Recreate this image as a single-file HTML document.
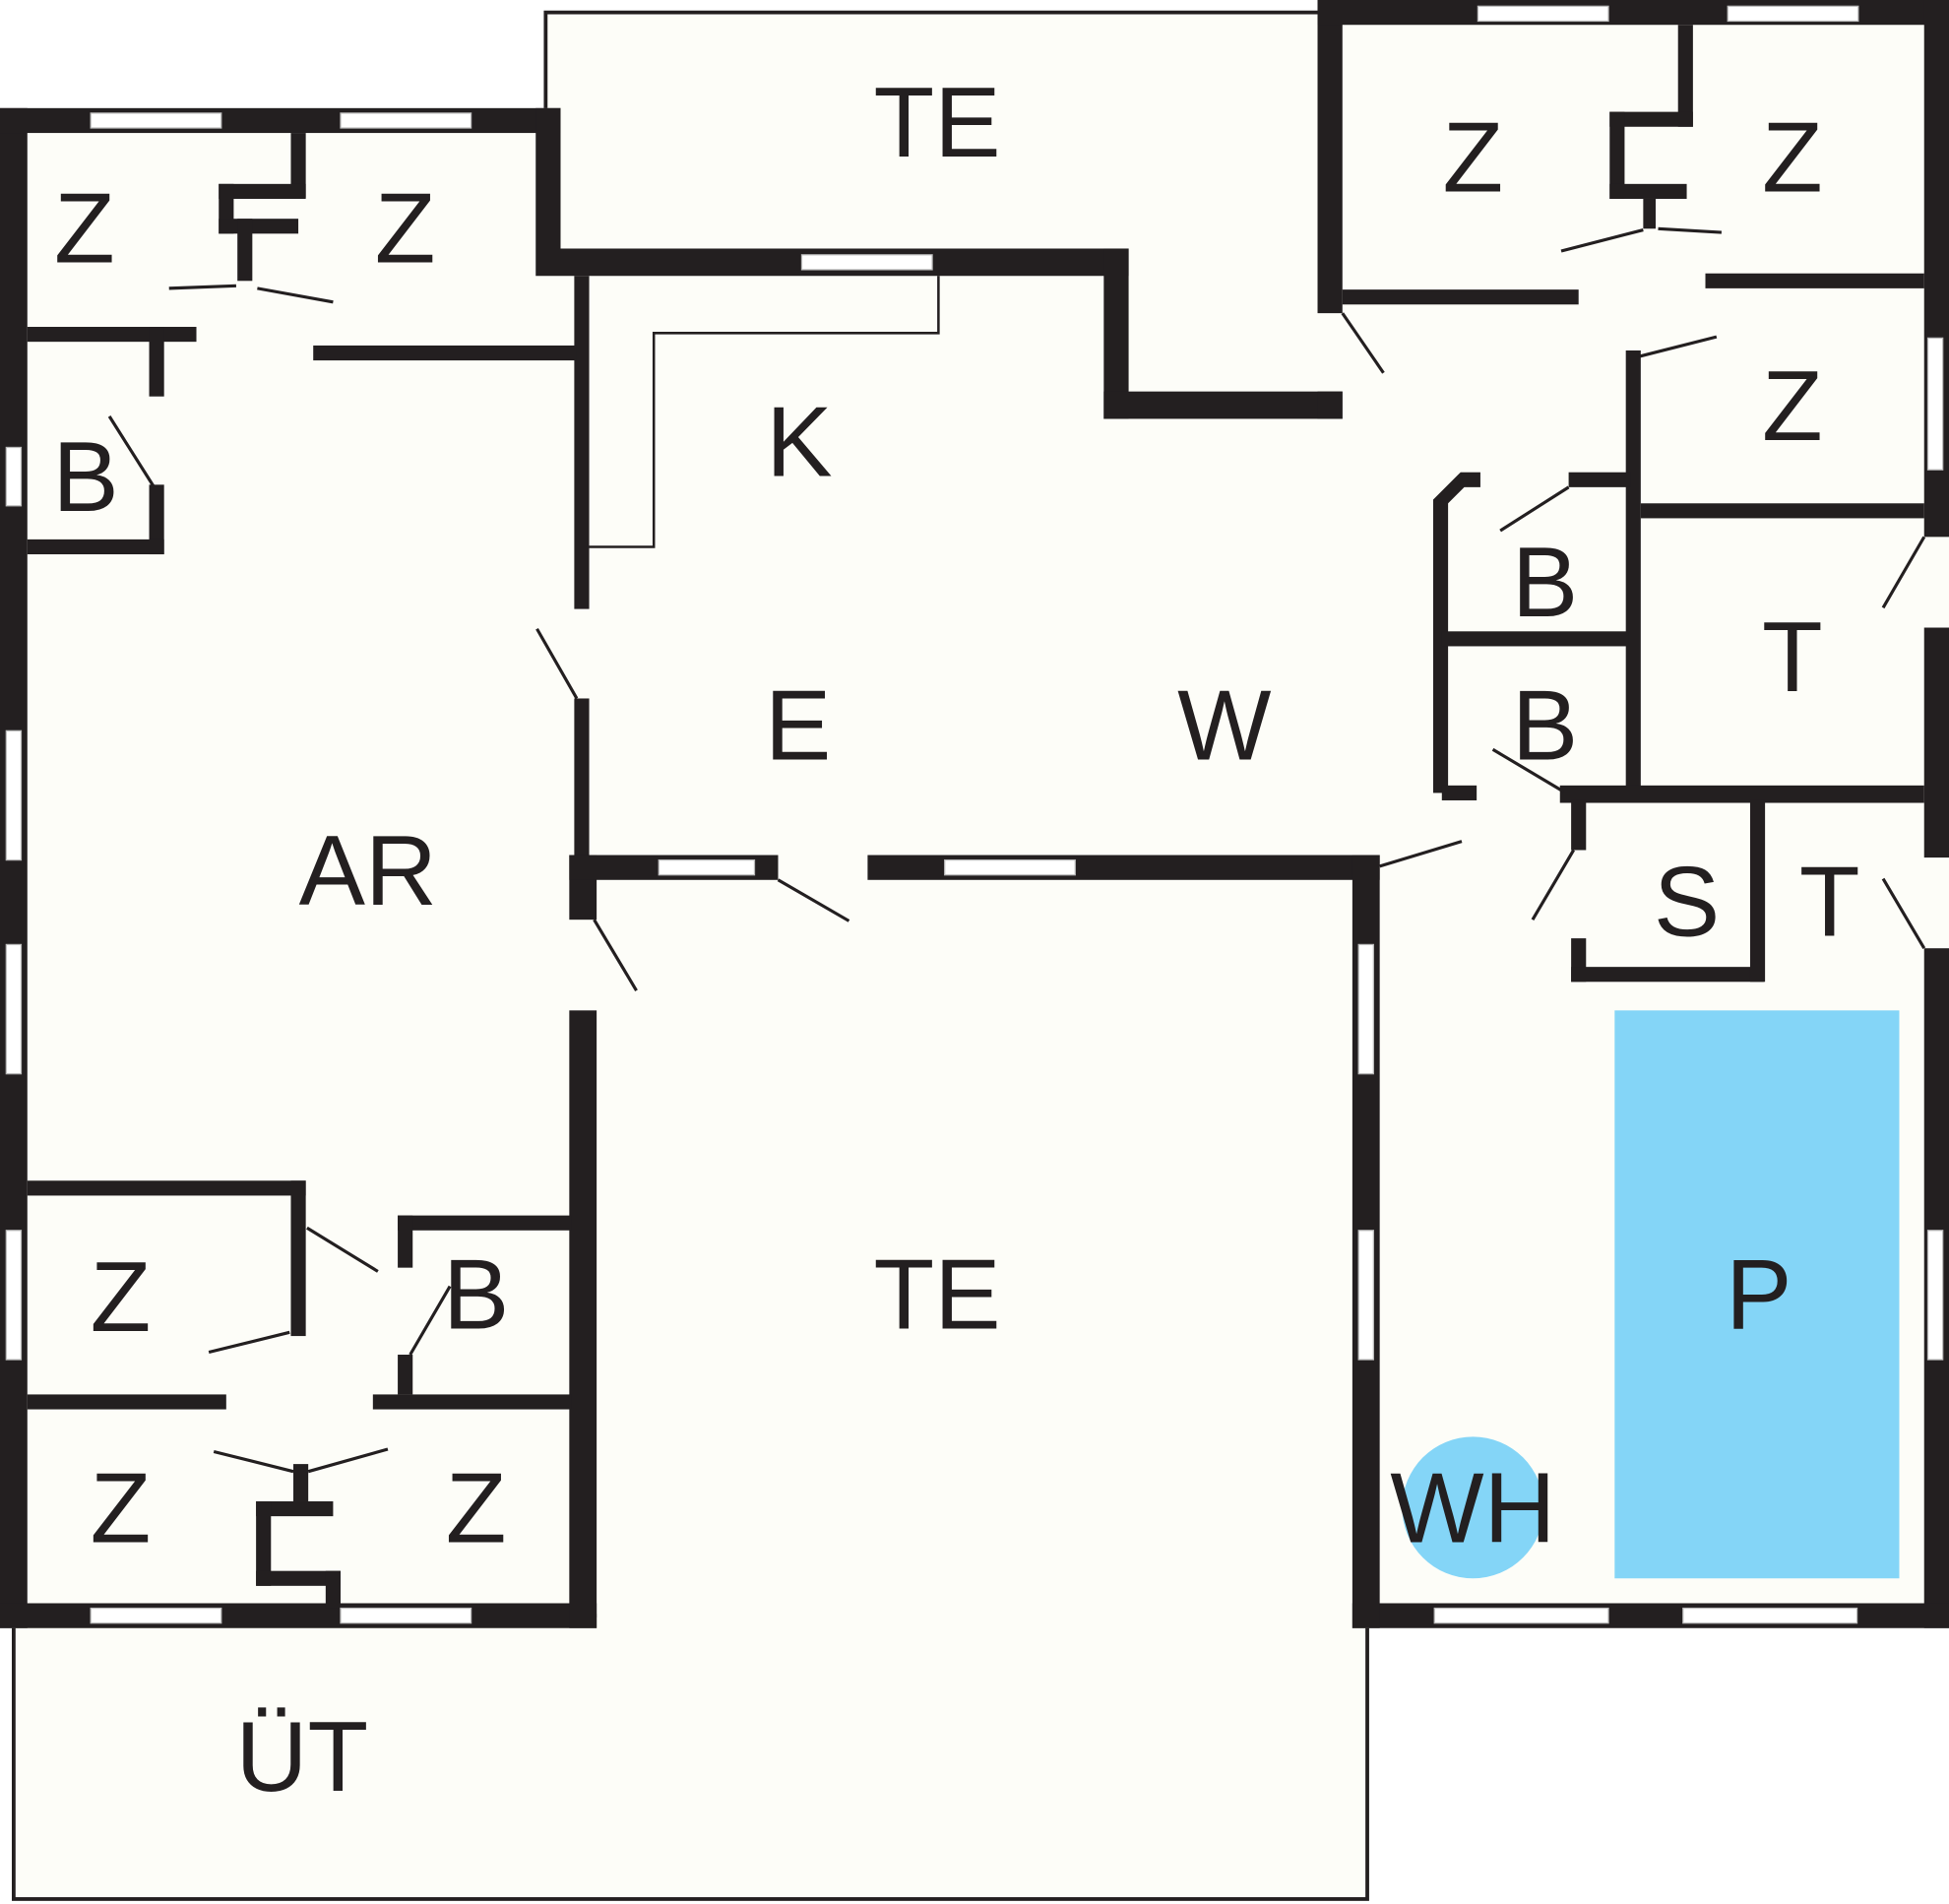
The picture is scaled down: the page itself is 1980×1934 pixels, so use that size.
<!DOCTYPE html>
<html><head><meta charset="utf-8"><style>
html,body{margin:0;padding:0;background:#fff;}
svg{display:block;}
text{font-family:"Liberation Sans",sans-serif;fill:#231f20;font-size:80px;text-anchor:middle;}
</style></head><body>
<svg width="1980" height="1934" viewBox="0 0 1568 1532" preserveAspectRatio="none" xmlns="http://www.w3.org/2000/svg">
<rect width="1568" height="1532" fill="#fff"/>
<g fill="#fdfdf8" stroke="#231f20" stroke-width="3">
<rect x="439" y="10" width="623" height="195"/>
<rect x="11" y="1300" width="1089" height="228"/>
</g>
<g fill="#fdfdf8">
<rect x="0" y="87" width="480" height="1223"/>
<rect x="440" y="200" width="670" height="510"/>
<rect x="1060" y="0" width="508" height="1310"/>
<rect x="480" y="700" width="620" height="604"/>
</g>
<g fill="#231f20">
<rect x="0" y="87" width="22" height="1223"/>
<rect x="0" y="87" width="451" height="20"/>
<rect x="431" y="87" width="20" height="135"/>
<rect x="451" y="200" width="457" height="22"/>
<rect x="888" y="200" width="20" height="137"/>
<rect x="888" y="315" width="192" height="22"/>
<rect x="1060" y="0" width="20" height="252"/>
<rect x="1060" y="315" width="20" height="22"/>
<rect x="1060" y="0" width="508" height="20"/>
<rect x="1548" y="0" width="20" height="432"/>
<rect x="1548" y="505" width="20" height="185"/>
<rect x="1548" y="763" width="20" height="547"/>
<rect x="0" y="1290" width="480" height="20"/>
<rect x="1088" y="1290" width="480" height="20"/>
<rect x="458" y="688" width="22" height="52"/>
<rect x="458" y="813" width="22" height="497"/>
<rect x="458" y="688" width="168" height="20"/>
<rect x="698" y="688" width="412" height="20"/>
<rect x="1088" y="688" width="22" height="622"/>
<rect x="462" y="222" width="12" height="268"/>
<rect x="462" y="562" width="12" height="126"/>
<rect x="252" y="278" width="212" height="12"/>
<rect x="22" y="263" width="136" height="12"/>
<rect x="120" y="263" width="12" height="56"/>
<rect x="120" y="390" width="12" height="56"/>
<rect x="22" y="434" width="110" height="12"/>
<rect x="234" y="107" width="12" height="52"/>
<rect x="176" y="148" width="70" height="12"/>
<rect x="176" y="148" width="12" height="40"/>
<rect x="176" y="176" width="64" height="12"/>
<rect x="191" y="176" width="12" height="50"/>
<rect x="22" y="950" width="224" height="12"/>
<rect x="234" y="950" width="12" height="125"/>
<rect x="320" y="978" width="140" height="12"/>
<rect x="320" y="978" width="12" height="42"/>
<rect x="320" y="1090" width="12" height="32"/>
<rect x="22" y="1122" width="160" height="12"/>
<rect x="300" y="1122" width="160" height="12"/>
<rect x="236" y="1178" width="12" height="30"/>
<rect x="206" y="1208" width="62" height="12"/>
<rect x="206" y="1208" width="12" height="68"/>
<rect x="206" y="1264" width="68" height="12"/>
<rect x="262" y="1264" width="12" height="30"/>
<rect x="1350" y="20" width="12" height="82"/>
<rect x="1295" y="90" width="67" height="12"/>
<rect x="1295" y="90" width="12" height="70"/>
<rect x="1295" y="148" width="62" height="12"/>
<rect x="1322" y="160" width="10" height="24"/>
<rect x="1080" y="233" width="190" height="12"/>
<rect x="1372" y="220" width="176" height="12"/>
<rect x="1308" y="282" width="12" height="362"/>
<rect x="1262" y="380" width="50" height="12"/>
<rect x="1175" y="380" width="16" height="12"/>
<rect x="1153" y="402" width="12" height="236"/>
<rect x="1320" y="405" width="228" height="12"/>
<rect x="1160" y="508" width="150" height="12"/>
<rect x="1160" y="632" width="28" height="12"/>
<rect x="1255" y="632" width="293" height="14"/>
<rect x="1264" y="644" width="12" height="40"/>
<rect x="1264" y="755" width="12" height="35"/>
<rect x="1264" y="778" width="155" height="12"/>
<rect x="1408" y="644" width="12" height="146"/>
</g>
<polygon points="1153,402 1175,380 1178,392 1165,405" fill="#231f20"/>
<g fill="#fff" stroke="#bbb" stroke-width="1">
<rect x="73" y="91" width="105" height="12"/><rect x="274" y="91" width="105" height="12"/>
<rect x="645" y="205" width="105" height="12"/>
<rect x="1189" y="5" width="105" height="12"/><rect x="1390" y="5" width="105" height="12"/>
<rect x="5" y="360" width="12" height="47"/><rect x="5" y="588" width="12" height="104"/>
<rect x="5" y="760" width="12" height="104"/><rect x="5" y="990" width="12" height="104"/>
<rect x="1551" y="272" width="12" height="106"/><rect x="1551" y="990" width="12" height="104"/>
<rect x="530" y="692" width="77" height="12"/><rect x="760" y="692" width="105" height="12"/>
<rect x="1093" y="760" width="12" height="104"/><rect x="1093" y="990" width="12" height="104"/>
<rect x="73" y="1294" width="105" height="12"/><rect x="274" y="1294" width="105" height="12"/>
<rect x="1154" y="1294" width="140" height="12"/><rect x="1354" y="1294" width="140" height="12"/>
</g>
<polyline points="474,440 526,440 526,268 755,268 755,222" fill="none" stroke="#231f20" stroke-width="2"/>
<g stroke="#231f20" stroke-width="2.5" fill="none">
<line x1="136" y1="232" x2="190" y2="230"/><line x1="207" y1="232" x2="268" y2="243"/>
<line x1="88" y1="335" x2="124" y2="392"/>
<line x1="432" y1="506" x2="464" y2="562"/>
<line x1="478" y1="740" x2="512" y2="797"/>
<line x1="626" y1="708" x2="683" y2="741"/>
<line x1="247" y1="988" x2="304" y2="1023"/>
<line x1="168" y1="1088" x2="233" y2="1072"/>
<line x1="330" y1="1090" x2="362" y2="1035"/>
<line x1="172" y1="1168" x2="236" y2="1184"/><line x1="248" y1="1184" x2="312" y2="1166"/>
<line x1="1080" y1="252" x2="1113" y2="300"/>
<line x1="1256" y1="202" x2="1322" y2="185"/><line x1="1334" y1="184" x2="1385" y2="187"/>
<line x1="1318" y1="287" x2="1381" y2="271"/>
<line x1="1207" y1="427" x2="1262" y2="392"/>
<line x1="1515" y1="489" x2="1548" y2="432"/>
<line x1="1201" y1="603" x2="1258" y2="637"/>
<line x1="1110" y1="697" x2="1176" y2="677"/>
<line x1="1233" y1="740" x2="1266" y2="684"/>
<line x1="1515" y1="707" x2="1548" y2="763"/>
</g>
<rect x="1299" y="813" width="229" height="457" fill="#84d5f7"/>
<circle cx="1185" cy="1213" r="57" fill="#84d5f7"/>
<text x="754" y="126">TE</text>
<text x="68" y="211">Z</text><text x="326" y="211">Z</text>
<text x="1185" y="154">Z</text><text x="1442" y="154">Z</text><text x="1442" y="354">Z</text>
<text x="69" y="411">B</text>
<text x="643" y="383">K</text>
<text x="1243" y="496">B</text><text x="1243" y="611">B</text>
<text x="1442" y="556">T</text>
<text x="642" y="611">E</text><text x="985" y="611">W</text>
<text x="296" y="728">AR</text>
<text x="1357" y="753">S</text><text x="1472" y="753">T</text>
<text x="97" y="1071">Z</text><text x="383" y="1069">B</text>
<text x="754" y="1069">TE</text>
<text x="1415" y="1069">P</text>
<text x="97" y="1241">Z</text><text x="383" y="1241">Z</text>
<text x="1185" y="1241">WH</text>
<text x="243" y="1441">ÜT</text>
</svg>
</body></html>
